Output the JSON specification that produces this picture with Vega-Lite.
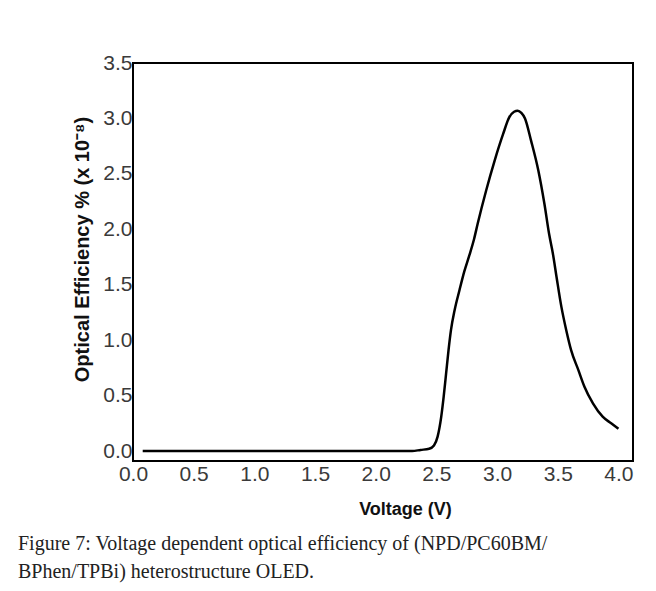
{
  "$schema": "https://vega.github.io/schema/vega-lite/v6.json",
  "autosize": {"type": "none"},
  "padding": {"left": 133, "top": 63, "right": 23, "bottom": 130},
  "width": 500,
  "height": 398,
  "background": "white",
  "config": {
    "view": {"stroke": "black", "strokeWidth": 2},
    "axis": {
      "domain": false,
      "ticks": false,
      "grid": false,
      "labelFont": "Liberation Sans",
      "labelFontSize": 21,
      "labelColor": "#3a3a3a",
      "titleFont": "Liberation Sans",
      "titleFontWeight": "bold",
      "titleColor": "#111111"
    }
  },
  "title": {
    "text": ["Figure 7: Voltage dependent optical efficiency of (NPD/PC60BM/", "BPhen/TPBi) heterostructure OLED."],
    "orient": "bottom",
    "anchor": "start",
    "frame": "group",
    "dx": -115,
    "font": "Liberation Serif",
    "fontSize": 20,
    "fontWeight": "normal",
    "color": "#222222",
    "lineHeight": 28,
    "offset": 16
  },
  "data": {
    "values": [
      {"v": 0.08, "eff": 0},
      {"v": 0.5, "eff": 0},
      {"v": 1.0, "eff": 0},
      {"v": 1.5, "eff": 0},
      {"v": 2.0, "eff": 0},
      {"v": 2.3, "eff": 0},
      {"v": 2.37, "eff": 0.01},
      {"v": 2.44, "eff": 0.02},
      {"v": 2.48, "eff": 0.05},
      {"v": 2.51, "eff": 0.13},
      {"v": 2.54, "eff": 0.31},
      {"v": 2.56, "eff": 0.49},
      {"v": 2.58, "eff": 0.70},
      {"v": 2.60, "eff": 0.91},
      {"v": 2.62, "eff": 1.09},
      {"v": 2.65, "eff": 1.27},
      {"v": 2.69, "eff": 1.45},
      {"v": 2.73, "eff": 1.62},
      {"v": 2.77, "eff": 1.76},
      {"v": 2.81, "eff": 1.91},
      {"v": 2.84, "eff": 2.05},
      {"v": 2.91, "eff": 2.35},
      {"v": 2.98, "eff": 2.62},
      {"v": 3.05, "eff": 2.86},
      {"v": 3.10, "eff": 3.01},
      {"v": 3.14, "eff": 3.06},
      {"v": 3.17, "eff": 3.07},
      {"v": 3.20, "eff": 3.05},
      {"v": 3.23, "eff": 3.00},
      {"v": 3.28, "eff": 2.80},
      {"v": 3.34, "eff": 2.53},
      {"v": 3.39, "eff": 2.23},
      {"v": 3.43, "eff": 1.95},
      {"v": 3.46, "eff": 1.78},
      {"v": 3.49, "eff": 1.57},
      {"v": 3.53, "eff": 1.30},
      {"v": 3.57, "eff": 1.09},
      {"v": 3.61, "eff": 0.91},
      {"v": 3.67, "eff": 0.73},
      {"v": 3.72, "eff": 0.58},
      {"v": 3.79, "eff": 0.43},
      {"v": 3.87, "eff": 0.31},
      {"v": 3.94, "eff": 0.25},
      {"v": 4.00, "eff": 0.20}
    ]
  },
  "mark": {"type": "line", "color": "black", "strokeWidth": 2.5, "interpolate": "monotone"},
  "encoding": {
    "x": {
      "field": "v",
      "type": "quantitative",
      "scale": {"domain": [0, 4.12], "nice": false, "zero": false},
      "axis": {
        "values": [0, 0.5, 1, 1.5, 2, 2.5, 3, 3.5, 4],
        "format": ".1f",
        "labelPadding": 2,
        "labelFlush": false,
        "title": "Voltage (V)",
        "titleFontSize": 18,
        "titlePadding": 16,
        "titleX": 272
      }
    },
    "y": {
      "field": "eff",
      "type": "quantitative",
      "scale": {"domain": [-0.09, 3.5], "nice": false, "zero": false},
      "axis": {
        "values": [0, 0.5, 1, 1.5, 2, 2.5, 3, 3.5],
        "format": ".1f",
        "labelPadding": 1,
        "labelFlush": false,
        "title": "Optical Efficiency % (x 10⁻⁸)",
        "titleFontSize": 20,
        "titlePadding": 10,
        "titleY": 186
      }
    }
  }
}
